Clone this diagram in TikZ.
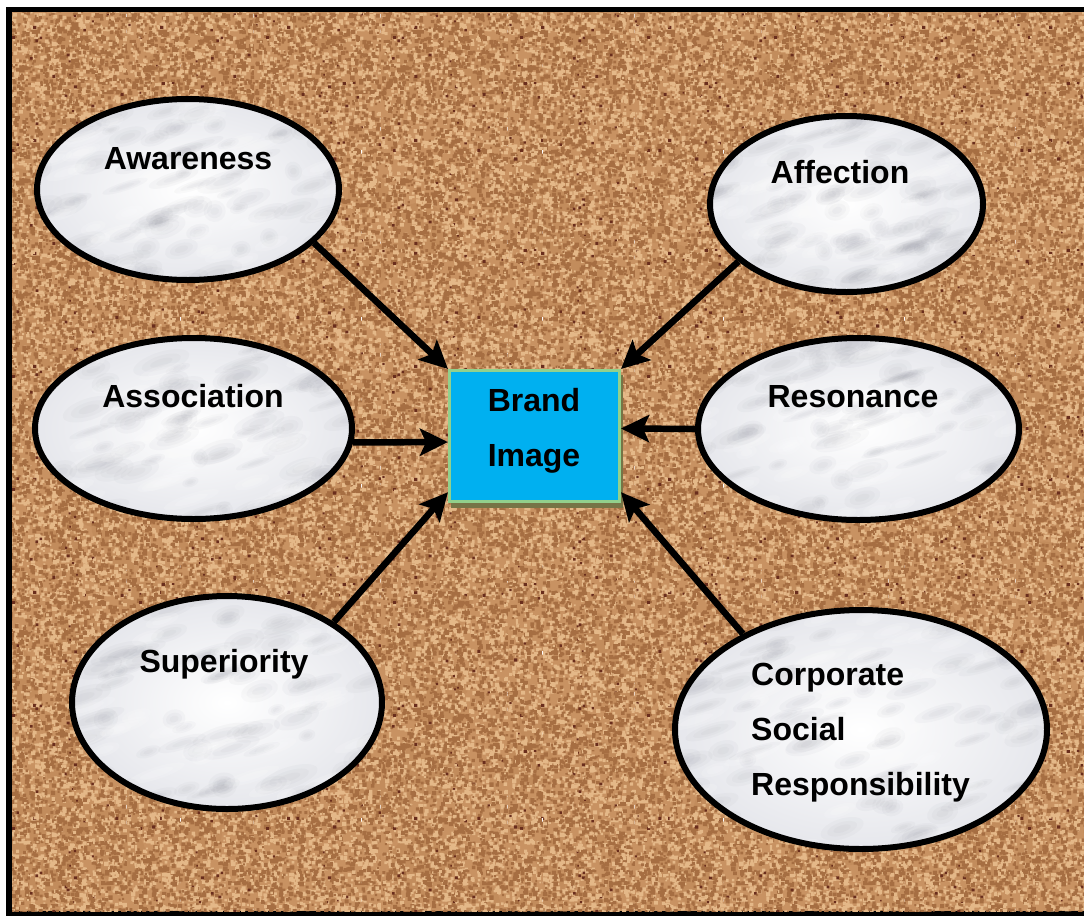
\documentclass[tikz,border=0pt]{standalone}
\usepackage{fontspec}
\setmainfont{Liberation Sans}
\usetikzlibrary{arrows.meta,shapes.geometric,calc,patterns}

\definecolor{corkbase}{RGB}{200,146,98}
\definecolor{corklight}{RGB}{228,184,136}
\definecolor{corkdark}{RGB}{166,110,66}
\definecolor{corkspeck}{RGB}{105,45,28}
\definecolor{marblebase}{RGB}{230,231,236}
\definecolor{marblevein}{RGB}{120,122,135}
\definecolor{boxblue}{RGB}{0,176,240}
\definecolor{boxedge}{RGB}{146,208,140}
\definecolor{boxshadow}{RGB}{118,116,70}

% random square specks added to the current pgf path:
% count, tile width, tile height, mean size
\newcount\corkcnt
\newcommand\corkspecks[4]{%
  \corkcnt=0
  \loop
    \pgfmathsetmacro\px{#2*rnd}%
    \pgfmathsetmacro\py{#3*rnd}%
    \pgfmathsetmacro\pw{#4*(0.6+0.8*rnd)}%
    \pgfpathrectangle{\pgfpoint{\px pt}{\py pt}}{\pgfpoint{\pw pt}{\pw pt}}%
    \advance\corkcnt by 1
  \ifnum\corkcnt<#1 \repeat
}

\pgfdeclarepatterninherentlycolored{corkA}{\pgfpointorigin}{\pgfpoint{127pt}{113pt}}{\pgfpoint{127pt}{113pt}}{%
  \pgfsetfillcolor{corklight}\corkspecks{480}{127}{113}{3.2}\pgfusepath{fill}%
  \pgfsetfillcolor{corkdark}\corkspecks{480}{127}{113}{3.2}\pgfusepath{fill}%
  \pgfsetfillcolor{corkspeck}\corkspecks{12}{127}{113}{2.4}\pgfusepath{fill}%
}
\pgfdeclarepatterninherentlycolored{corkB}{\pgfpointorigin}{\pgfpoint{181pt}{167pt}}{\pgfpoint{181pt}{167pt}}{%
  \pgfsetfillcolor{corklight}\corkspecks{420}{181}{167}{2.8}\pgfusepath{fill}%
  \pgfsetfillcolor{corkdark}\corkspecks{420}{181}{167}{2.8}\pgfusepath{fill}%
  \pgfsetfillcolor{corkspeck}\corkspecks{18}{181}{167}{2.4}\pgfusepath{fill}%
}

\tikzset{
  bubble/.style={ellipse, draw=black, line width=6pt, inner sep=0pt},
  labeltext/.style={font=\fontsize{32}{38}\selectfont\bfseries, anchor=base, inner sep=0pt},
  link/.style={line width=6.5pt, -{Stealth[length=28pt,width=27pt,inset=6pt]}},
  core/.style={rectangle, draw=boxedge, fill=boxblue, line width=3pt,
    minimum width=170pt, minimum height=131pt, inner sep=0pt},
}

% marble-filled ellipse: name, cx, cy, rx, ry
\newcommand\marblebubble[5]{%
  \begin{scope}
    \clip (#2,#3) ellipse [x radius=#4pt, y radius=#5pt];
    \fill[marblebase] (#2,#3) ellipse [x radius=#4pt, y radius=#5pt];
    \shade[inner color=white, outer color=marblebase]
      (#2,#3) ellipse [x radius=#4pt, y radius=#5pt];
    \foreach \k in {1,...,80}{%
      \pgfmathsetmacro\px{#2-#4+2*#4*rnd}%
      \pgfmathsetmacro\py{#3-#5+2*#5*rnd}%
      \pgfmathsetmacro\qa{8+22*rnd}%
      \pgfmathsetmacro\qb{4+7*rnd}%
      \begin{scope}[rotate around={18:(\px,\py)}]
        \fill[marblevein, opacity=0.045] (\px,\py) ellipse [x radius=\qa pt, y radius=\qb pt];
        \fill[marblevein, opacity=0.045] (\px,\py) ellipse [x radius=0.7*\qa pt, y radius=0.65*\qb pt];
        \fill[marblevein, opacity=0.045] (\px,\py) ellipse [x radius=0.4*\qa pt, y radius=0.35*\qb pt];
      \end{scope}
    }
    \foreach \k in {1,...,40}{%
      \pgfmathsetmacro\px{#2-#4+2*#4*rnd}%
      \pgfmathsetmacro\py{#3-#5+2*#5*rnd}%
      \pgfmathsetmacro\qa{10+20*rnd}%
      \begin{scope}[rotate around={18:(\px,\py)}]
        \fill[white, opacity=0.15] (\px,\py) ellipse [x radius=\qa pt, y radius=6pt];
        \fill[white, opacity=0.15] (\px,\py) ellipse [x radius=0.6*\qa pt, y radius=3.5pt];
      \end{scope}
    }
  \end{scope}
  \node[bubble, minimum width={2*#4pt}, minimum height={2*#5pt}] (#1) at (#2,#3) {};
}

\begin{document}
\begin{tikzpicture}[x=1pt,y=-1pt]
\pgfmathsetseed{7}
\useasboundingbox (0,0) rectangle (1084,916);
\fill[white] (0,0) rectangle (1084,916);

% frame and cork board
\fill[black] (6,7) rectangle (1084,916);
\fill[corkbase] (12,12) rectangle (1084,911);
\begin{scope}
  \clip (12,12) rectangle (1084,911);
  \fill[corkdark, opacity=0.16]
    \foreach \k in {1,...,260}{ (12+1072*rnd, 12+900*rnd) circle [radius=8+22*rnd] };
  \fill[pattern=corkA] (12,12) rectangle (1084,911);
  \fill[pattern=corkB] (12,12) rectangle (1084,911);
\end{scope}

% outer ideas
\marblebubble{aw}{188}{189.5}{151}{90.5}
\marblebubble{af}{846.5}{204}{136.5}{88}
\marblebubble{as}{193.5}{428.5}{158.5}{90.5}
\marblebubble{rs}{858.5}{429}{160.5}{91}
\marblebubble{sp}{227}{702.5}{155}{106.5}
\marblebubble{cs}{861}{729.5}{186}{119.5}

\node[labeltext] at (188,169) {Awareness};
\node[labeltext] at (840,183) {Affection};
\node[labeltext] at (193,407) {Association};
\node[labeltext] at (853,407) {Resonance};
\node[labeltext] at (224,672) {Superiority};
\node[labeltext, anchor=base west] at (751,685) {Corporate};
\node[labeltext, anchor=base west] at (751,740) {Social};
\node[labeltext, anchor=base west] at (751,795) {Responsibility};

% central box with its shadow
\fill[boxshadow] (451,375) rectangle (623,508);
\node[core] (box) at (534.5,436) {};
\node[labeltext] at (534,411) {Brand};
\node[labeltext] at (534,466) {Image};

% connectors
\draw[link] (aw.-23) -- (box.north west);
\draw[link] (as.-5) -- (box.184);
\draw[link] (sp.37) -- (box.213);
\draw[link] (af.208) -- (box.north east);
\draw[link] (rs.180) -- (box.5);
\draw[link] (cs.141) -- (box.-33);
\end{tikzpicture}
\end{document}
